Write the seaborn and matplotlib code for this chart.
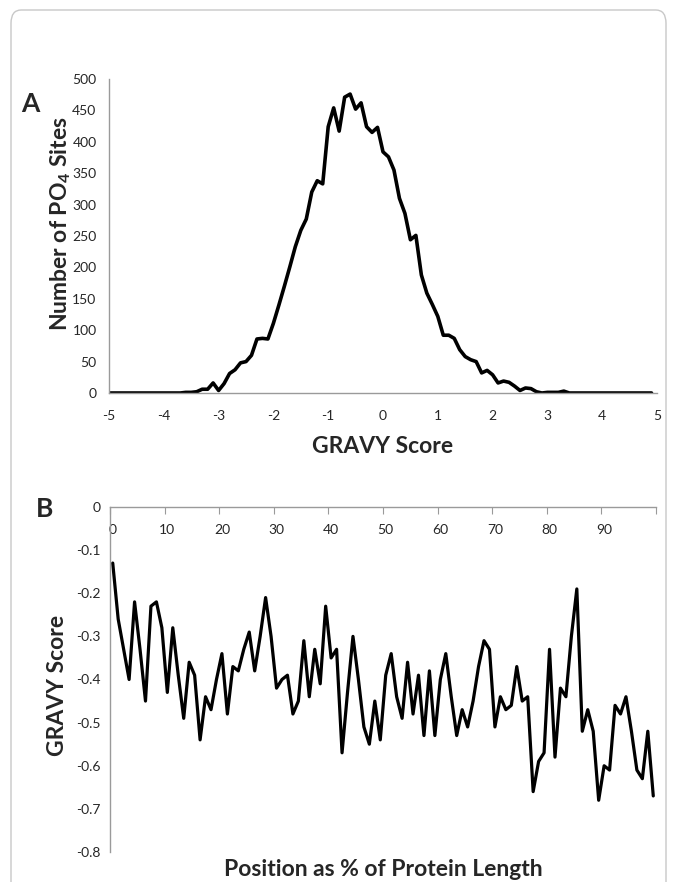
import numpy as np
import matplotlib.pyplot as plt
import seaborn as sns
import pandas as pd
from matplotlib.patches import FancyBboxPatch
from matplotlib.ticker import FixedLocator

sns.set_style("white")
plt.rcParams["font.family"] = ["Lato", "DejaVu Sans"]
plt.rcParams["axes.unicode_minus"] = False
plt.rcParams["mathtext.fontset"] = "custom"
plt.rcParams["mathtext.rm"] = "Lato:bold"
plt.rcParams["mathtext.default"] = "rm"

# panel A: GRAVY score histogram (bins of 0.1 from -5.0 to 4.9)
gravy_bins = np.round(np.arange(-50, 50) / 10, 1)
po4_sites = [0] * 14 + [
    1, 1, 2, 6, 6, 16, 4, 15, 31, 37,
    48, 50, 60, 86, 87, 86, 111, 140, 170, 201,
    233, 259, 277, 320, 338, 333, 424, 454, 417, 471,
    476, 452, 462, 424, 415, 423, 384, 376, 355, 310,
    286, 244, 251, 188, 159, 141, 122, 92, 92, 87,
    69, 58, 53, 50, 32, 36, 29, 16, 19, 17,
    11, 4, 8, 7, 2, 0, 1, 1, 1, 3,
] + [0] * 16
gravy_ticks = [-5, -4, -3, -2, -1, 0, 1, 2, 3, 4, 5]
count_ticks = [0, 50, 100, 150, 200, 250, 300, 350, 400, 450, 500]

# panel B: mean GRAVY score per position (% of protein length)
position_pct = list(range(100))
gravy_by_pos = [
    -0.13, -0.26, -0.33, -0.40, -0.22, -0.33, -0.45, -0.23, -0.22, -0.28,
    -0.43, -0.28, -0.39, -0.49, -0.36, -0.39, -0.54, -0.44, -0.47, -0.40,
    -0.34, -0.48, -0.37, -0.38, -0.33, -0.29, -0.38, -0.30, -0.21, -0.30,
    -0.42, -0.40, -0.39, -0.48, -0.45, -0.31, -0.44, -0.33, -0.41, -0.23,
    -0.35, -0.33, -0.57, -0.43, -0.30, -0.40, -0.51, -0.55, -0.45, -0.54,
    -0.39, -0.34, -0.44, -0.49, -0.36, -0.48, -0.39, -0.53, -0.38, -0.53,
    -0.40, -0.34, -0.44, -0.53, -0.47, -0.51, -0.45, -0.37, -0.31, -0.33,
    -0.51, -0.44, -0.47, -0.46, -0.37, -0.45, -0.44, -0.66, -0.59, -0.57,
    -0.33, -0.58, -0.42, -0.44, -0.30, -0.19, -0.52, -0.47, -0.52, -0.68,
    -0.60, -0.61, -0.46, -0.48, -0.44, -0.52, -0.61, -0.63, -0.52, -0.67,
]
pos_ticks = [0, 10, 20, 30, 40, 50, 60, 70, 80, 90, 100]
pos_labels = ["0", "10", "20", "30", "40", "50", "60", "70", "80", "90"]
score_ticks = [0, -0.1, -0.2, -0.3, -0.4, -0.5, -0.6, -0.7, -0.8]

df_a = pd.DataFrame({"gravy": gravy_bins, "sites": po4_sites})
df_b = pd.DataFrame({"pos": np.array(position_pct) + 0.5, "score": gravy_by_pos})

W, H = 677, 882
fig = plt.figure(figsize=(W / 100, H / 100), dpi=100)
grey = "#9a9a9a"
TICK_FS = 10
LAB_FS = 16.5


def px(x, y):
    return x / W, 1 - y / H


# outer frame (runs off the bottom of the image)
frame = FancyBboxPatch((11 / W, -0.05), 655 / W, 1 - 10 / H + 0.05,
                       boxstyle="round,pad=0,rounding_size=0.015",
                       transform=fig.transFigure, fill=False,
                       edgecolor="#c8c8c8", linewidth=1)
fig.patches.append(frame)

# ---- panel A ----
ax1 = fig.add_axes([109 / W, 1 - 393 / H, 548 / W, 314 / H])
sns.lineplot(data=df_a, x="gravy", y="sites", ax=ax1, color="black",
             linewidth=2.6, estimator=None)
ax1.set_xlim(-5, 5)
ax1.set_ylim(0, 500)
ax1.set_xticks(gravy_ticks)
ax1.set_xticklabels([str(t) for t in gravy_ticks])
ax1.set_yticks(count_ticks)
ax1.set_yticklabels([str(t) for t in count_ticks])
for s in ["top", "right"]:
    ax1.spines[s].set_visible(False)
for s in ["left", "bottom"]:
    ax1.spines[s].set_color(grey)
    ax1.spines[s].set_linewidth(1)
ax1.tick_params(axis="x", direction="out", length=5, color=grey, pad=7,
                labelsize=TICK_FS)
ax1.tick_params(axis="y", direction="out", length=3, color=grey, pad=6,
                labelsize=TICK_FS)
ax1.set_xlabel("")
ax1.set_ylabel("")
fig.text(*px(383, 446), "GRAVY Score", fontsize=LAB_FS, fontweight="bold",
         ha="center", va="center")
fig.text(*px(61, 224), "Number of PO$_4$ Sites", fontsize=LAB_FS,
         fontweight="bold", ha="center", va="center", rotation=90)
fig.text(*px(30, 104), "A", fontsize=19, fontweight="bold",
         ha="center", va="center")

# ---- panel B ----
ax2 = fig.add_axes([110 / W, 1 - 852 / H, 546 / W, 345 / H])
sns.lineplot(data=df_b, x="pos", y="score", ax=ax2, color="black",
             linewidth=2.3, estimator=None)
ax2.set_xlim(0, 100)
ax2.set_ylim(-0.8, 0)
ax2.xaxis.tick_top()
ax2.xaxis.set_major_locator(FixedLocator(pos_ticks))
ax2.xaxis.set_minor_locator(FixedLocator([p + 0.5 for p in pos_ticks[:-1]]))
ax2.set_xticklabels([], minor=False)
ax2.set_xticklabels(pos_labels, minor=True)
ax2.tick_params(axis="x", which="major", direction="in", length=5,
                color=grey, top=True, bottom=False)
ax2.tick_params(axis="x", which="minor", length=0, top=True, bottom=False,
                labeltop=True, labelbottom=False, pad=-21, labelsize=TICK_FS)
ax2.set_yticks(score_ticks)
ax2.set_yticklabels([("%g" % t) for t in score_ticks])
ax2.tick_params(axis="y", direction="out", length=4, color=grey, pad=3,
                labelsize=TICK_FS)
for s in ["bottom", "right"]:
    ax2.spines[s].set_visible(False)
for s in ["left", "top"]:
    ax2.spines[s].set_color(grey)
    ax2.spines[s].set_linewidth(1)
ax2.set_xlabel("")
ax2.set_ylabel("")
fig.text(*px(57, 685), "GRAVY Score", fontsize=LAB_FS, fontweight="bold",
         ha="center", va="center", rotation=90)
fig.text(*px(383, 870), "Position as % of Protein Length",
         fontsize=LAB_FS, fontweight="bold", ha="center", va="center")
fig.text(*px(45, 509), "B", fontsize=19, fontweight="bold",
         ha="center", va="center")

fig.savefig("out.png", dpi=100)
